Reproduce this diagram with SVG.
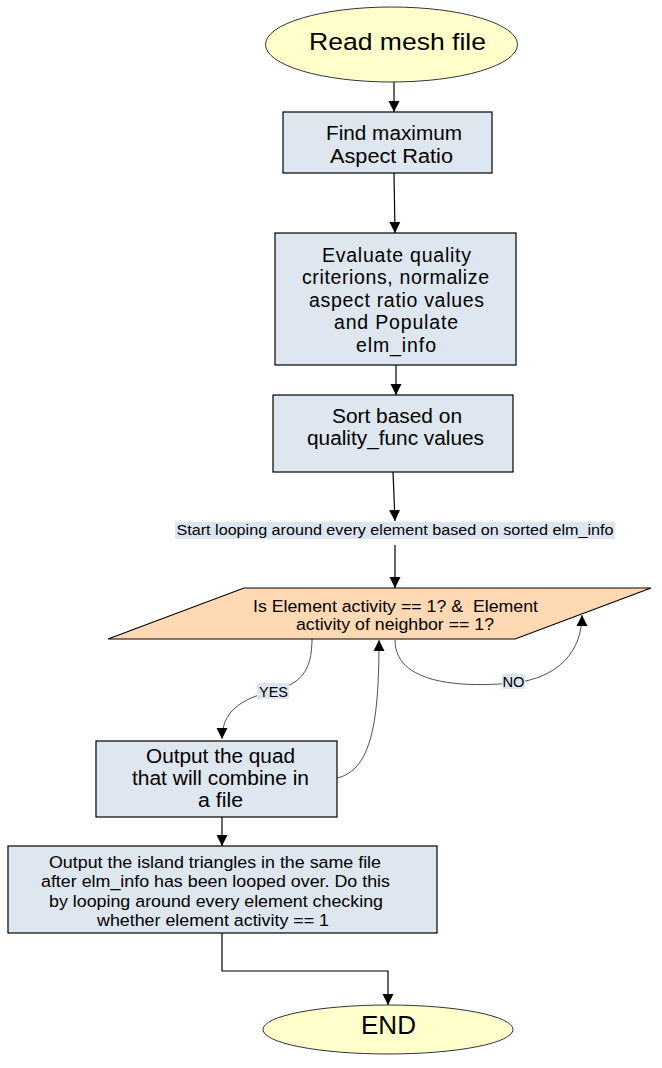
<svg xmlns="http://www.w3.org/2000/svg" width="662" height="1068" viewBox="0 0 662 1068">
<defs>
<marker id="ah" markerUnits="userSpaceOnUse" markerWidth="11" markerHeight="12" viewBox="0 0 10 10" refX="10" refY="5" orient="auto">
<path d="M0,0 L10,5 L0,10 z" fill="#000"/>
</marker>
<style>
text{font-family:"Liberation Sans",Arial,sans-serif;fill:#000;text-anchor:middle}
.box{fill:#dee6ef;stroke:#000;stroke-width:1.2}
.term{fill:#ffffcc;stroke:#333;stroke-width:1}
.dec{fill:#ffd9b3;stroke:#000;stroke-width:1.2}
.ln{fill:none;stroke:#000;stroke-width:1.2}
.cv{fill:none;stroke:#222;stroke-width:0.8}
.lbl{fill:#dde6f0}
</style>
</defs>
<rect width="662" height="1068" fill="#fff"/>
<g id="connectors">
<line class="ln" x1="394" y1="82" x2="394" y2="112" marker-end="url(#ah)"/>
<line class="ln" x1="394" y1="173" x2="395" y2="233" marker-end="url(#ah)"/>
<line class="ln" x1="396" y1="365" x2="396" y2="395" marker-end="url(#ah)"/>
<line class="ln" x1="393" y1="472" x2="395" y2="521" marker-end="url(#ah)"/>
<line class="ln" x1="395" y1="545" x2="395" y2="588" marker-end="url(#ah)"/>
<path class="cv" d="M312,639 C312,672 300,684 273,691 C240,699 222,712 222,739" marker-end="url(#ah)"/>
<path class="cv" d="M337,778 C372,770 379,720 379,640" marker-end="url(#ah)"/>
<path class="cv" d="M395,640 C395,690 480,686 513,683 C560,678 582,650 582,615" marker-end="url(#ah)"/>
<line class="ln" x1="222" y1="817" x2="222" y2="846" marker-end="url(#ah)"/>
<polyline class="ln" points="222,933 222,971 388,971 388,1005" marker-end="url(#ah)"/>
<g id="label-start">
<rect class="lbl" x="175" y="522" width="440" height="17"/>
<text x="395" y="535" font-size="15.5" textLength="437" lengthAdjust="spacingAndGlyphs">Start looping around every element based on sorted elm_info</text>
</g>
<g id="label-yes">
<rect class="lbl" x="257" y="683" width="32" height="16"/>
<text x="273.5" y="697" font-size="15.5" textLength="29" lengthAdjust="spacingAndGlyphs">YES</text>
</g>
<g id="label-no">
<rect class="lbl" x="502" y="674" width="23" height="15"/>
<text x="513.5" y="687" font-size="15.5" textLength="22" lengthAdjust="spacingAndGlyphs">NO</text>
</g>
</g>
<g id="start">
<ellipse class="term" cx="391.5" cy="44.5" rx="126" ry="37.5"/>
<text x="397.5" y="50" font-size="24.5" textLength="177" lengthAdjust="spacingAndGlyphs">Read mesh file</text>
</g>
<g id="find-max">
<rect class="box" x="283" y="112" width="209" height="61"/>
<text x="394" y="139.5" font-size="19.5" textLength="136" lengthAdjust="spacingAndGlyphs">Find maximum</text>
<text x="391.5" y="163" font-size="19.5" textLength="123" lengthAdjust="spacingAndGlyphs">Aspect Ratio</text>
</g>
<g id="evaluate">
<rect class="box" x="275" y="233" width="241" height="132"/>
<text font-size="19.5" lengthAdjust="spacingAndGlyphs"><tspan x="396.5" y="261.7" textLength="149">Evaluate quality</tspan></text>
<text font-size="19.5" lengthAdjust="spacingAndGlyphs"><tspan x="395.5" y="284.2" textLength="187">criterions, normalize</tspan></text>
<text font-size="19.5" lengthAdjust="spacingAndGlyphs"><tspan x="396.5" y="306.7" textLength="175">aspect ratio values</tspan></text>
<text font-size="19.5" lengthAdjust="spacingAndGlyphs"><tspan x="396" y="329.2" textLength="124">and Populate</tspan></text>
<text font-size="19.5" lengthAdjust="spacingAndGlyphs"><tspan x="396" y="351.7" textLength="80">elm_info</tspan></text>
</g>
<g id="sort">
<rect class="box" x="273" y="395" width="240" height="77"/>
<text x="397" y="423.3" font-size="19.5" textLength="130" lengthAdjust="spacingAndGlyphs">Sort based on</text>
<text x="395.5" y="444.5" font-size="19.5" textLength="177" lengthAdjust="spacingAndGlyphs">quality_func values</text>
</g>
<g id="decision">
<polygon class="dec" points="244,588 651,588 515,639 108,639"/>
<text x="395.5" y="611.7" font-size="16.8" textLength="285" lengthAdjust="spacingAndGlyphs">Is Element activity == 1? &amp;&#160; Element</text>
<text x="395" y="630" font-size="16.8" textLength="198" lengthAdjust="spacingAndGlyphs">activity of neighbor == 1?</text>
</g>
<g id="output-quad">
<rect class="box" x="96" y="741" width="241" height="76"/>
<text x="220.5" y="762.7" font-size="20" textLength="149" lengthAdjust="spacingAndGlyphs">Output the quad</text>
<text x="220.5" y="784.5" font-size="20" textLength="177" lengthAdjust="spacingAndGlyphs">that will combine in</text>
<text x="220.5" y="806.5" font-size="20" textLength="45" lengthAdjust="spacingAndGlyphs">a file</text>
</g>
<g id="output-island">
<rect class="box" x="8" y="846" width="429" height="87"/>
<text x="215" y="868.3" font-size="16.8" textLength="332" lengthAdjust="spacingAndGlyphs">Output the island triangles in the same file</text>
<text x="215.5" y="887" font-size="16.8" textLength="349" lengthAdjust="spacingAndGlyphs">after elm_info has been looped over. Do this</text>
<text x="216" y="907" font-size="16.8" textLength="334" lengthAdjust="spacingAndGlyphs">by looping around every element checking</text>
<text x="213" y="926" font-size="16.8" textLength="232" lengthAdjust="spacingAndGlyphs">whether element activity == 1</text>
</g>
<g id="end">
<ellipse class="term" cx="388" cy="1029.5" rx="125" ry="24.5"/>
<text x="388.5" y="1034" font-size="25.5" textLength="55" lengthAdjust="spacingAndGlyphs">END</text>
</g>
</svg>
